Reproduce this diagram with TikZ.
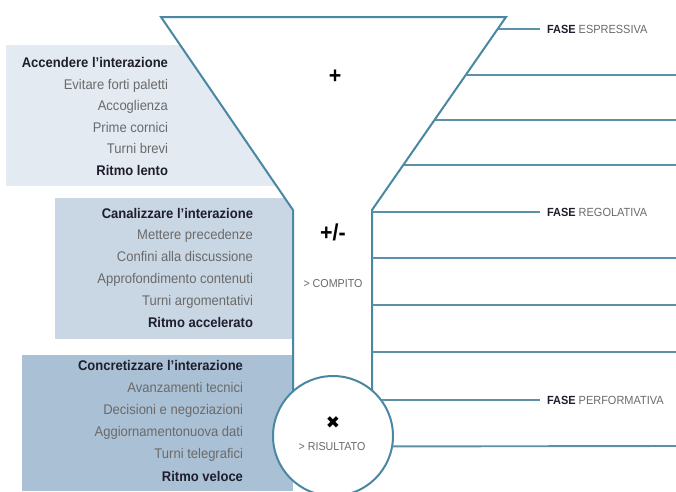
\documentclass[tikz,border=0pt]{standalone}
\usepackage{fontspec}
\usetikzlibrary{calc}
\setmainfont[FakeStretch=0.93]{Liberation Sans}
\newfontfamily\symfont{DejaVu Sans}
\definecolor{func}{HTML}{4A87A2}
\definecolor{linec}{HTML}{5A90A8}
\definecolor{boxa}{HTML}{E4EAF1}
\definecolor{boxb}{HTML}{C9D6E3}
\definecolor{boxc}{HTML}{AAC0D5}
\definecolor{titc}{HTML}{1E1E2C}
\definecolor{itemc}{HTML}{6A6A6A}
\tikzset{
  funline/.style={draw=func, line width=2pt, line join=miter},
  phline/.style={draw=linec, line width=1.9pt},
  ttl/.style={anchor=base east, text=titc, font=\fontsize{14}{14}\selectfont\bfseries},
  itm/.style={anchor=base east, text=itemc, font=\fontsize{14}{14}\selectfont},
  fase/.style={anchor=base west, font=\fontsize{11.8}{12}\selectfont},
  sym/.style={text=black, font=\fontsize{23}{23}\selectfont\bfseries},
  res/.style={text=itemc, font=\fontsize{11.5}{12}\selectfont},
}
\begin{document}
\begin{tikzpicture}[x=1pt,y=-1pt, every node/.style={inner sep=0pt, outer sep=0pt}]
\useasboundingbox (0,0) rectangle (676,491);
% left boxes
\fill[boxa] (6,45) rectangle (300,186);
\fill[boxb] (55,198) rectangle (300,339);
\fill[boxc] (22,355) rectangle (293,491);
% funnel corners
\coordinate (tl) at (161,17);
\coordinate (tr) at (506,17);
\coordinate (bl) at (293,210);
\coordinate (br) at (372,210);
\coordinate (sl) at (293,395);
\coordinate (sr) at (372,395);
\fill[white] (tl) -- (tr) -- (br) -- (sr) -- (sl) -- (bl) -- cycle;
\draw[funline] (sl) -- (bl) -- (tl) -- (tr) -- (br) -- (sr);
\node[circle, draw=func, line width=2pt, fill=white, minimum size=120pt] (c) at (333,436) {};
% right lines
\coordinate (e1) at ($(tr)!12/193!(br)$);
\foreach \y/\n in {75/a,120/b,165/c}{
  \coordinate (s\n) at ($(tr)!{(\y-17)/193}!(br)$);
  \coordinate (t\n) at (676,\y);
  \draw[phline] (s\n) -- (t\n);
}
\foreach \y/\n in {258/d,305/e,352/f}{
  \coordinate (s\n) at (372,\y);
  \coordinate (t\n) at (676,\y);
  \draw[phline] (s\n) -- (t\n);
}
\coordinate (tg) at (676,446);
\draw[phline] (c.-10) -- (tg);
\node[fase] (f1) at (547,33) {\textcolor{titc}{\bfseries FASE} \textcolor{itemc}{ESPRESSIVA}};
\node[fase] (f2) at (547,216) {\textcolor{titc}{\bfseries FASE} \textcolor{itemc}{REGOLATIVA}};
\node[fase] (f3) at (547,404) {\textcolor{titc}{\bfseries FASE} \textcolor{itemc}{PERFORMATIVA}};
\draw[phline] (e1) -- ([xshift=-7pt]f1.west |- e1);
\coordinate (r2) at (372,212);
\draw[phline] (r2) -- ([xshift=-7pt]f2.west |- r2);
\draw[phline] (c.37) -- ([xshift=-7pt]f3.west |- c.37);
% funnel labels
\node[sym] (plus) at (335,77) {+};
\node[sym] (pm) at (333,232) {+/-};
\node[res] (comp) at (333,284) {> COMPITO};
\node[text=black, font=\symfont\fontsize{17}{17}\selectfont] (times) at (333,423) {✖};
\node[res] (ris) at (332,447) {> RISULTATO};
% box 1 text
\node[ttl] (a1) at (168,67.5) {Accendere l’interazione};
\node[itm] (a2) at (168,89) {Evitare forti paletti};
\node[itm] (a3) at (168,110.5) {Accoglienza};
\node[itm] (a4) at (168,132) {Prime cornici};
\node[itm] (a5) at (168,153.5) {Turni brevi};
\node[ttl] (a6) at (168,175) {Ritmo lento};
% box 2 text
\node[ttl] (b1) at (253,218) {Canalizzare l’interazione};
\node[itm] (b2) at (253,239.5) {Mettere precedenze};
\node[itm] (b3) at (253,261) {Confini alla discussione};
\node[itm] (b4) at (253,283) {Approfondimento contenuti};
\node[itm] (b5) at (253,305) {Turni argomentativi};
\node[ttl] (b6) at (253,327) {Ritmo accelerato};
% box 3 text
\node[ttl] (c1) at (243,370) {Concretizzare l’interazione};
\node[itm] (c2) at (243,392) {Avanzamenti tecnici};
\node[itm] (c3) at (243,414) {Decisioni e negoziazioni};
\node[itm] (c4) at (243,436) {Aggiornamentonuova dati};
\node[itm] (c5) at (243,458) {Turni telegrafici};
\node[ttl] (c6) at (243,481) {Ritmo veloce};
\end{tikzpicture}
\end{document}
